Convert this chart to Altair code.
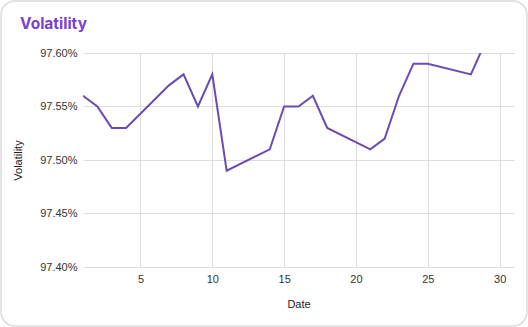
import altair as alt
import pandas as pd

days = [1, 2, 3, 4, 7, 8, 9, 10, 11, 14, 15, 16, 17, 18, 21, 22, 23, 24, 25, 28, 29, 30, 31]
volatility = [0.9756, 0.9755, 0.9753, 0.9753, 0.9757, 0.9758, 0.9755, 0.9758, 0.9749, 0.9751,
              0.9755, 0.9755, 0.9756, 0.9753, 0.9751, 0.9752, 0.9756, 0.9759, 0.9759, 0.9758,
              0.9761, 0.9763, 0.9760]
x_ticks = [5, 10, 15, 20, 25, 30]
y_ticks = [0.974, 0.9745, 0.975, 0.9755, 0.976]
title_text = "Volatility"

df = pd.DataFrame({"Date": days, "Volatility": volatility})

W, H = 431, 214
PL, PT, PR, PB = 83, 53, 14, 60

line = alt.Chart(df).mark_line(color="#6a4cb3", strokeWidth=2, clip=True).encode(
    x=alt.X("Date:Q", scale=alt.Scale(domain=[1, 31], nice=False, zero=False),
            axis=alt.Axis(values=x_ticks, title="Date", grid=True, ticks=False, domain=False,
                          labelPadding=6, titlePadding=14)),
    y=alt.Y("Volatility:Q", scale=alt.Scale(domain=[0.974, 0.976], nice=False, zero=False),
            axis=alt.Axis(values=y_ticks, format=".2%", title="Volatility", grid=True,
                          ticks=False, domain=False, labelPadding=6, titlePadding=16)),
)

one = pd.DataFrame({"a": [0]})

border = alt.Chart(one).mark_rect(
    fill=None, stroke="#dcdcdc", strokeWidth=1.5, cornerRadius=14, clip=False
).encode(
    x=alt.value(-PL + 1), x2=alt.value(W + PR - 1),
    y=alt.value(-PT + 1), y2=alt.value(H + PB - 1),
)

title = alt.Chart(one).mark_text(
    font="Inter", fontSize=15.5, fontWeight="bold", color="#7b3fd4",
    align="left", baseline="alphabetic", clip=False
).encode(
    x=alt.value(20 - PL), y=alt.value(28.5 - PT), text=alt.value(title_text)
)

chart = alt.layer(border, title, line).properties(
    width=W, height=H,
    autosize=alt.AutoSizeParams(type="none"),
    padding={"left": PL, "top": PT, "right": PR, "bottom": PB},
    background="white",
).configure_view(stroke=None).configure_axis(
    labelFont="Liberation Sans", titleFont="Liberation Sans", labelFontSize=11, titleFontSize=11,
    labelColor="#333333", titleColor="#222222", titleFontWeight="normal", gridColor="#dddddd",
)

chart.save("out.html", embed_options={"renderer": "svg", "actions": False})
